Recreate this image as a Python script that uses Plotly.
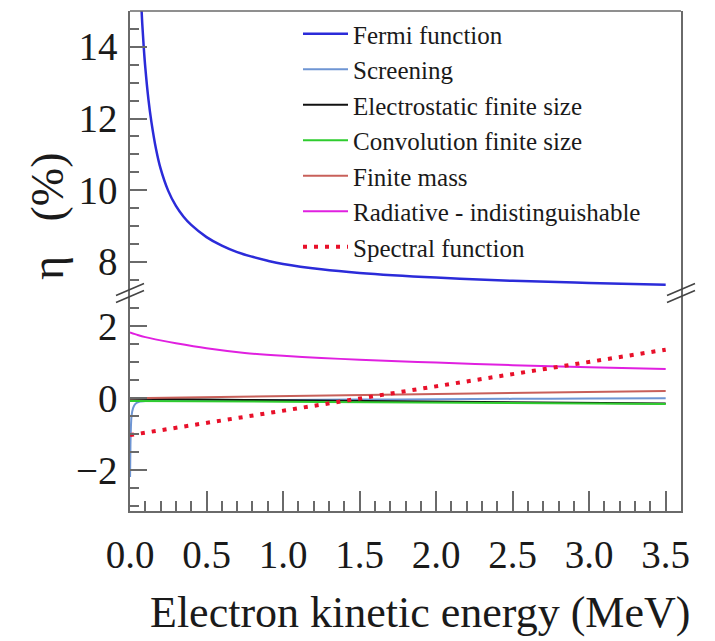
import plotly.graph_objects as go

# ---------------- data ----------------
x_fermi = [0.06, 0.07, 0.08, 0.09, 0.10, 0.12, 0.14, 0.17, 0.20, 0.25, 0.30, 0.35,
           0.40, 0.50, 0.60, 0.70, 0.80, 0.90, 1.00, 1.25, 1.50, 2.00, 2.50, 3.00, 3.50]
fermi = [16.6, 15.5, 14.65, 13.98, 13.42, 12.55, 11.9, 11.15, 10.6, 9.98, 9.56, 9.26,
         9.03, 8.69, 8.45, 8.27, 8.14, 8.03, 7.94, 7.79, 7.69, 7.56, 7.47, 7.41, 7.36]

x_screen = [0.0005, 0.003, 0.006, 0.01, 0.02, 0.035, 0.06, 0.1, 0.2, 0.5,
            1.0, 1.5, 2.0, 2.5, 3.0, 3.5]
screening = [-2.2, -1.3, -0.8, -0.5, -0.28, -0.16, -0.1, -0.08, -0.07, -0.06,
             -0.05, -0.04, -0.03, -0.02, -0.01, 0.0]

x_low = [0.0, 0.05, 0.1, 0.2, 0.3, 0.5, 0.75, 1.0, 1.25, 1.5, 1.75, 2.0, 2.5, 3.0, 3.5]
electrostatic = [-0.02, -0.02, -0.025, -0.03, -0.03, -0.04, -0.05, -0.06, -0.07,
                 -0.08, -0.09, -0.095, -0.11, -0.13, -0.15]
convolution = [-0.08, -0.08, -0.08, -0.085, -0.085, -0.09, -0.095, -0.1, -0.105,
               -0.11, -0.115, -0.12, -0.135, -0.145, -0.16]
finite_mass = [0.0, 0.003, 0.006, 0.011, 0.017, 0.029, 0.043, 0.057, 0.071,
               0.086, 0.1, 0.114, 0.143, 0.171, 0.2]
radiative = [1.83, 1.76, 1.70, 1.61, 1.53, 1.39, 1.26, 1.18, 1.12, 1.07, 1.03,
             0.99, 0.92, 0.86, 0.81]

x_spec = [0.0, 0.5, 1.0, 1.5, 2.0, 2.5, 3.0, 3.5]
spectral = [-1.03, -0.69, -0.35, -0.01, 0.33, 0.67, 1.01, 1.35]

names = ["Fermi function", "Screening", "Electrostatic finite size",
         "Convolution finite size", "Finite mass",
         "Radiative - indistinguishable", "Spectral function"]
colors = ["#2b2bd9", "#6e95d3", "#111111", "#2ecc2e", "#c8605a", "#e020e0", "#e8102a"]

x_ticks = [0.0, 0.5, 1.0, 1.5, 2.0, 2.5, 3.0, 3.5]
x_ticklabels = ["0.0", "0.5", "1.0", "1.5", "2.0", "2.5", "3.0", "3.5"]
up_ticks = [8, 10, 12, 14]
low_ticks = [-2, 0, 2]
x_title = "Electron kinetic energy (MeV)"
y_title = "η\u00a0\u00a0\u00a0(%)"

# ---------------- figure ----------------
FONT = "Times New Roman, Liberation Serif, Times, serif"
AX = "#6a6a6a"
W, H = 715, 641
ML, MR, MT, MB = 130, 34, 11, 130
PW, PH = W - ML - MR, H - MT - MB
BREAK_PY = 293
split = (H - MB - BREAK_PY) / PH

fig = go.Figure()

fig.add_trace(go.Scatter(x=x_fermi, y=fermi, name=names[0], mode="lines",
                         line=dict(color=colors[0], width=2.5, shape="spline", smoothing=1.0),
                         xaxis="x", yaxis="y2"))
fig.add_trace(go.Scatter(x=x_screen, y=screening, name=names[1], mode="lines",
                         line=dict(color=colors[1], width=2, shape="spline", smoothing=0.6)))
fig.add_trace(go.Scatter(x=x_low, y=electrostatic, name=names[2], mode="lines",
                         line=dict(color=colors[2], width=2)))
fig.add_trace(go.Scatter(x=x_low, y=convolution, name=names[3], mode="lines",
                         line=dict(color=colors[3], width=2)))
fig.add_trace(go.Scatter(x=x_low, y=finite_mass, name=names[4], mode="lines",
                         line=dict(color=colors[4], width=2)))
fig.add_trace(go.Scatter(x=x_low, y=radiative, name=names[5], mode="lines",
                         line=dict(color=colors[5], width=2, shape="spline", smoothing=0.6)))
fig.add_trace(go.Scatter(x=x_spec, y=spectral, name=names[6], mode="lines",
                         line=dict(color=colors[6], width=4, dash="4px,7px")))

common_y = dict(showline=True, linecolor=AX, linewidth=1.5, mirror=True,
                ticks="inside", ticklen=17, tickwidth=1.5, tickcolor=AX,
                showgrid=False, zeroline=False, ticklabelstandoff=3,
                tickfont=dict(family=FONT, size=39, color="#1a1a1a"),
                minor=dict(ticks="inside", ticklen=9, dtick=0.5, tickwidth=1.5,
                           tickcolor=AX, showgrid=False))

fig.update_layout(
    width=W, height=H,
    margin=dict(l=ML, r=MR, t=MT, b=MB),
    paper_bgcolor="white", plot_bgcolor="white",
    font=dict(family=FONT),
    showlegend=True,
    legend=dict(x=(298 - ML) / PW, y=1 - (11 - MT) / PH, xanchor="left", yanchor="top",
                bgcolor="rgba(0,0,0,0)", borderwidth=0,
                font=dict(family=FONT, size=25, color="#1a1a1a"),
                itemwidth=45, tracegroupgap=0),
    xaxis=dict(range=[0, 3.6], showline=True, linecolor=AX, linewidth=1.5,
               ticks="inside", ticklen=20, tickwidth=1.5, tickcolor=AX,
               tickvals=x_ticks, ticktext=x_ticklabels, showgrid=False, zeroline=False,
               ticklabelstandoff=8,
               tickfont=dict(family=FONT, size=39, color="#1a1a1a"),
               minor=dict(ticks="inside", ticklen=10, dtick=0.1, tickwidth=1.5,
                          tickcolor=AX, showgrid=False)),
    yaxis=dict(domain=[0, split], range=[-3.145, 2.93], tickvals=low_ticks,
               anchor="x", **common_y),
    yaxis2=dict(domain=[split, 1], range=[7.13, 15.0], tickvals=up_ticks,
                anchor="x", **common_y),
)

# top frame line
fig.add_shape(type="line", xref="paper", yref="paper", x0=0, x1=1, y0=1, y1=1,
              line=dict(color=AX, width=1.5))

# axis break marks
def px2paper(px, py):
    return (px - ML) / PW, (H - MB - py) / PH

for ax_px in (ML, W - MR):
    for off in (-3.5, 3.5):
        x0, y0 = px2paper(ax_px - 14, BREAK_PY + 6 + off)
        x1, y1 = px2paper(ax_px + 14, BREAK_PY - 6 + off)
        fig.add_shape(type="line", xref="paper", yref="paper",
                      x0=x0, y0=y0, x1=x1, y1=y1,
                      line=dict(color="#444444", width=1.6))

# axis titles
tx, ty = px2paper(47, 216)
fig.add_annotation(text=y_title, xref="paper", yref="paper", x=tx, y=ty,
                   textangle=-90, showarrow=False, xanchor="center", yanchor="middle",
                   font=dict(family=FONT, size=46, color="#1a1a1a"))
tx, ty = px2paper(420, 612)
fig.add_annotation(text=x_title, xref="paper", yref="paper", x=tx, y=ty,
                   showarrow=False, xanchor="center", yanchor="middle",
                   font=dict(family=FONT, size=44, color="#1a1a1a"))

fig.write_html("out.html")
